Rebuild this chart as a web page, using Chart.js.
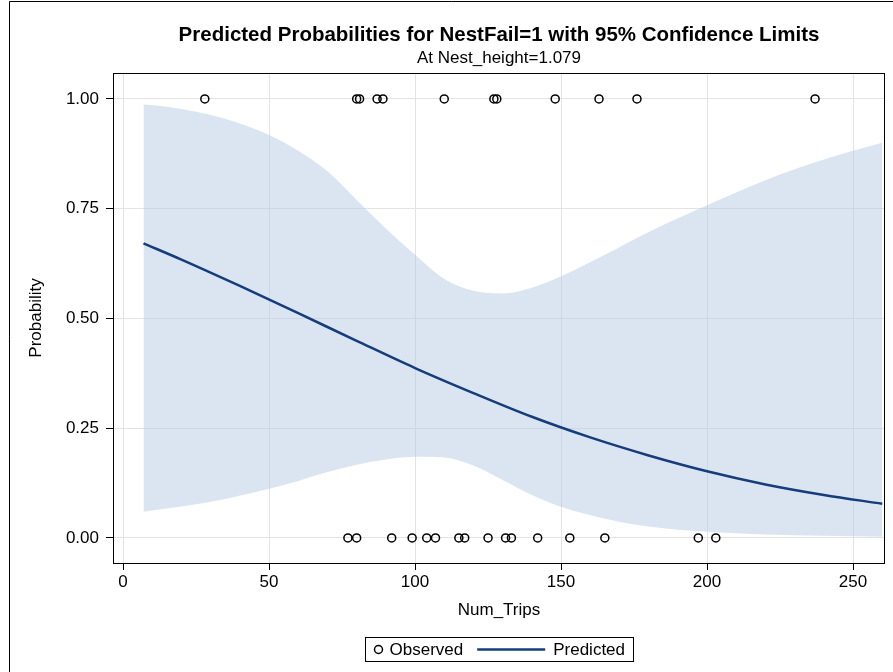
<!DOCTYPE html>
<html>
<head>
<meta charset="utf-8">
<script src="https://cdn.jsdelivr.net/npm/chart.js@4.4.1/dist/chart.umd.min.js"></script>
<style>
  html, body { margin: 0; padding: 0; background: #fff; }
  #wrap { width: 893px; height: 672px; }
</style>
</head>
<body>
<div id="wrap"><canvas id="chart-1" width="893" height="672"></canvas></div>
<script>
// observed nests (Num_Trips), split by outcome
const tripsFail = [28, 80, 81, 87, 89, 110, 127, 128, 148, 163, 176, 237];
const tripsOk = [77, 80, 92, 99, 104, 107, 115, 117, 125, 131, 133, 142, 153, 165, 197, 203];

// predicted probability curve
const predX = [7, 20, 40, 60, 80, 100, 120, 140, 160, 180, 200, 220, 240, 260];
const predY = [0.671, 0.634, 0.574, 0.512, 0.449, 0.387, 0.330, 0.276, 0.229, 0.188, 0.152, 0.122, 0.098, 0.078];

// 95% confidence limits
const bandX = [7, 15, 25, 35, 50, 60, 70, 80, 90, 100, 110, 120, 130, 140, 150, 165, 180, 200, 220, 240, 260];
const upperCL = [0.987, 0.982, 0.971, 0.955, 0.918, 0.882, 0.835, 0.770, 0.705, 0.645, 0.590, 0.563, 0.557, 0.570, 0.596, 0.645, 0.697, 0.758, 0.815, 0.862, 0.900];
const lowerCL = [0.060, 0.067, 0.077, 0.089, 0.112, 0.130, 0.150, 0.167, 0.179, 0.185, 0.183, 0.165, 0.132, 0.098, 0.071, 0.044, 0.026, 0.014, 0.008, 0.005, 0.003];

const xTicks = [0, 50, 100, 150, 200, 250];
const yTicks = [0, 0.25, 0.5, 0.75, 1];

const lineColor = '#153d7c';
const bandColor = 'rgba(184, 204, 230, 0.5)';

Chart.defaults.font.family = "'Liberation Sans', Arial, sans-serif";
Chart.defaults.color = '#000';

function pts(xs, ys) {
    return xs.map((x, i) => ({ x: x, y: ys[i] }));
}

// frame around plot area, outer border and the boxed legend
const framePlugin = {
    id: 'frame',
    afterDraw(chart) {
        const ctx = chart.ctx;
        const a = chart.chartArea;
        ctx.save();
        ctx.strokeStyle = '#000';
        ctx.lineWidth = 1;
        ctx.strokeRect(Math.round(a.left) - 0.5, Math.round(a.top) + 0.5,
            Math.round(a.right - a.left) + 1, Math.round(a.bottom - a.top));

        // outer border
        ctx.beginPath();
        ctx.moveTo(9.5, 672);
        ctx.lineTo(9.5, 1.5);
        ctx.lineTo(893, 1.5);
        ctx.stroke();

        // legend
        ctx.font = "17px 'Liberation Sans', Arial, sans-serif";
        ctx.textBaseline = 'middle';
        const w1 = ctx.measureText('Observed').width;
        const w2 = ctx.measureText('Predicted').width;
        const total = 8 + 10 + 6 + w1 + 14 + 68 + 8 + w2 + 8;
        const cx = (a.left + a.right) / 2;
        const left = Math.round(cx - total / 2) + 0.5;
        const top = 637.5, h = 24, cy = top + h / 2;
        ctx.strokeRect(left, top, Math.round(total), h);
        let x = left + 8;
        ctx.beginPath();
        ctx.lineWidth = 1.5;
        ctx.arc(x + 5, cy, 4, 0, Math.PI * 2);
        ctx.stroke();
        x += 16;
        ctx.fillStyle = '#000';
        ctx.fillText('Observed', x, cy + 1);
        x += w1 + 14;
        ctx.beginPath();
        ctx.strokeStyle = lineColor;
        ctx.lineWidth = 2.5;
        ctx.moveTo(x, cy);
        ctx.lineTo(x + 68, cy);
        ctx.stroke();
        x += 76;
        ctx.fillText('Predicted', x, cy + 1);
        ctx.restore();
    }
};

const ctx = document.getElementById('chart-1').getContext('2d');

const chart_1 = new Chart(ctx, {
    type: 'line',
    data: {
        datasets: [
            {
                label: 'Lower',
                data: pts(bandX, lowerCL),
                borderWidth: 0,
                borderColor: 'rgba(0,0,0,0)',
                pointRadius: 0,
                fill: false,
                cubicInterpolationMode: 'monotone',
                order: 3
            },
            {
                label: '95% Confidence Limits',
                data: pts(bandX, upperCL),
                borderWidth: 0,
                borderColor: 'rgba(0,0,0,0)',
                backgroundColor: bandColor,
                pointRadius: 0,
                fill: '-1',
                cubicInterpolationMode: 'monotone',
                order: 2
            },
            {
                label: 'Predicted',
                data: pts(predX, predY),
                borderColor: lineColor,
                borderWidth: 2.5,
                pointRadius: 0,
                fill: false,
                cubicInterpolationMode: 'monotone',
                order: 1
            },
            {
                label: 'Observed',
                data: tripsFail.map(t => ({ x: t, y: 1 })).concat(tripsOk.map(t => ({ x: t, y: 0 }))),
                showLine: false,
                pointStyle: 'circle',
                pointRadius: 4,
                pointBorderWidth: 1.5,
                pointBorderColor: '#000',
                pointBackgroundColor: 'rgba(0,0,0,0)',
                order: 0
            }
        ]
    },
    options: {
        responsive: false,
        animation: false,
        layout: { padding: { left: 0, right: 9, top: 0, bottom: 0 } },
        scales: {
            x: {
                type: 'linear',
                min: -3.1,
                max: 260.6,
                afterFit: s => { s.height = 109; },
                afterBuildTicks: s => { s.ticks = xTicks.map(v => ({ value: v })); },
                border: { display: false },
                grid: { color: '#e3e3e3', tickColor: '#000', tickLength: 7 },
                ticks: { font: { size: 17 }, padding: 2, maxRotation: 0 },
                title: {
                    display: true,
                    text: 'Num_Trips',
                    font: { size: 17 },
                    padding: { top: 4, bottom: 51 }
                }
            },
            y: {
                min: -0.057,
                max: 1.059,
                afterFit: s => { s.width = 114; },
                afterBuildTicks: s => { s.ticks = yTicks.map(v => ({ value: v })); },
                border: { display: false },
                grid: { color: '#e3e3e3', tickColor: '#000', tickLength: 8 },
                ticks: { font: { size: 17 }, padding: 7, callback: v => v.toFixed(2) },
                title: {
                    display: true,
                    text: 'Probability',
                    font: { size: 17 },
                    padding: { top: 26, bottom: 0 }
                }
            }
        },
        plugins: {
            legend: { display: false },
            tooltip: { enabled: false },
            title: {
                display: true,
                fullSize: false,
                text: 'Predicted Probabilities for NestFail=1 with 95% Confidence Limits',
                font: { size: 20.5, weight: 'bold' },
                padding: { top: 22.7, bottom: 0.5 }
            },
            subtitle: {
                display: true,
                fullSize: false,
                text: 'At Nest_height=1.079',
                font: { size: 17 },
                padding: { top: 0, bottom: 4.8 }
            }
        }
    },
    plugins: [framePlugin]
});
</script>
</body>
</html>
